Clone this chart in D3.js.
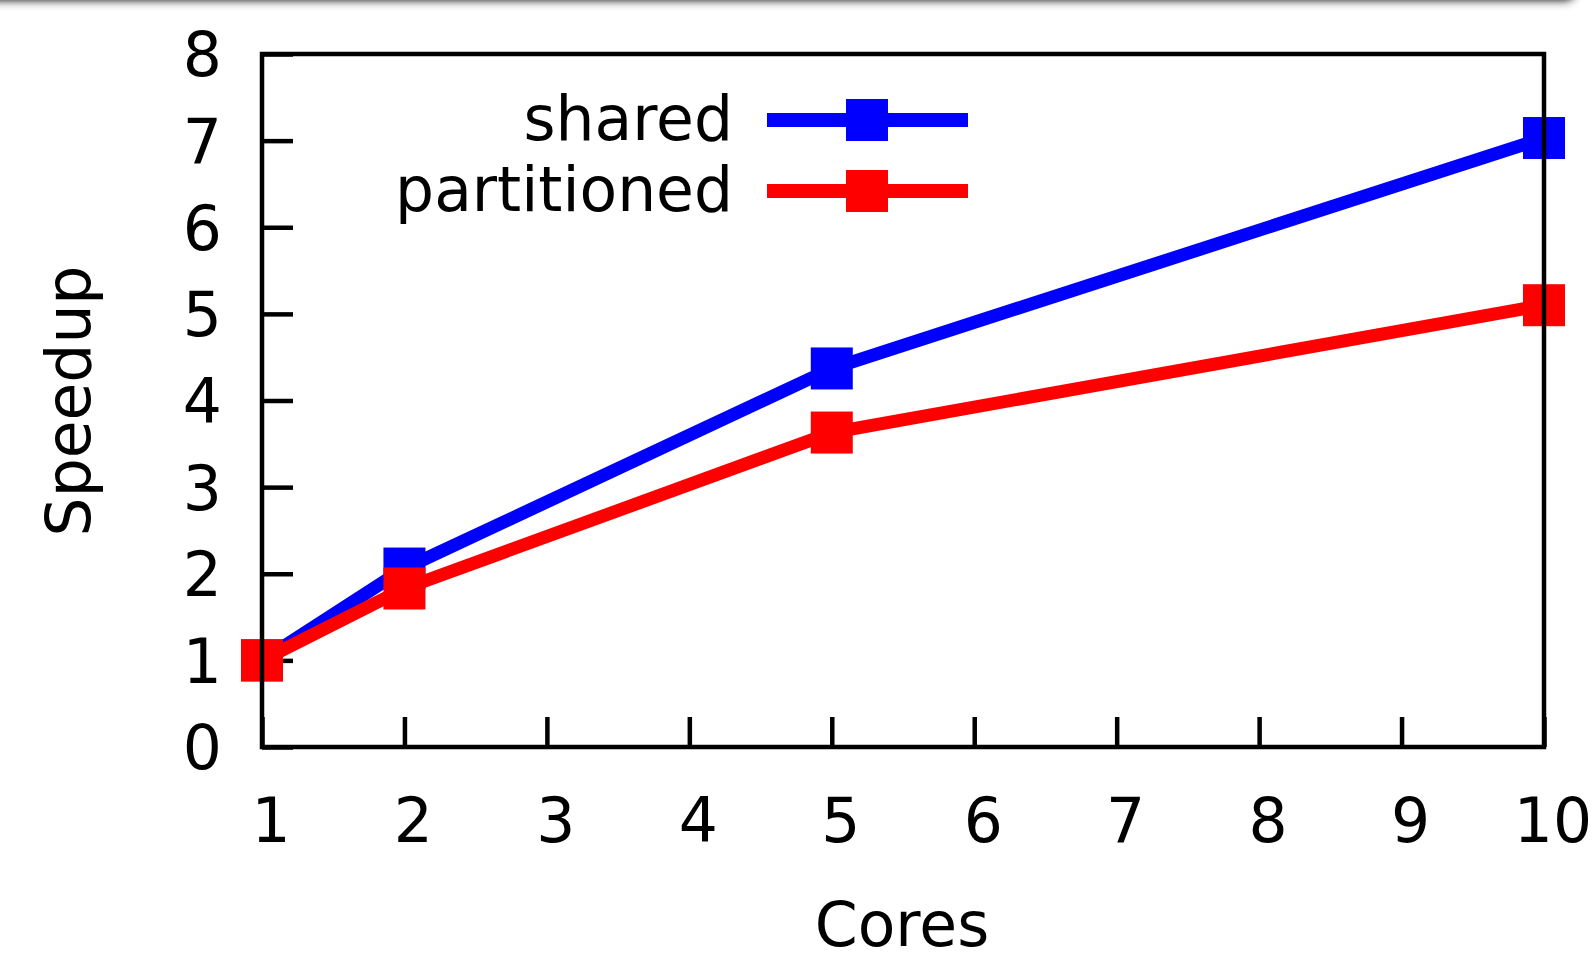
<!DOCTYPE html>
<html>
<head>
<meta charset="utf-8">
<script src="https://cdn.jsdelivr.net/npm/d3@7"></script>
<style>
  html, body { margin: 0; padding: 0; background: #fff; overflow: hidden; }
  svg { display: block; }
  text { font-family: "DejaVu Sans", sans-serif; fill: #000; }
</style>
</head>
<body>
<svg id="chart" width="1594" height="954"></svg>
<script>
// ---- data ----
const cores = [1, 2, 5, 10];
const sharedSpeedup = [1.0, 2.06, 4.37, 7.03];
const partitionedSpeedup = [1.0, 1.83, 3.63, 5.10];
const seriesNames = ["shared", "partitioned"];
const seriesColors = ["#0000ff", "#ff0000"];
const xTickValues = [1, 2, 3, 4, 5, 6, 7, 8, 9, 10];
const yTickValues = [0, 1, 2, 3, 4, 5, 6, 7, 8];
const xTitle = "Cores";
const yTitle = "Speedup";

(function () {
// ---- layout ----
const svg = d3.select("#chart");
const pLeft = 262, pRight = 1544, pTop = 54, pBottom = 747;
const x = d3.scaleLinear().domain([1, 10]).range([pLeft, pRight]);
const y = d3.scaleLinear().domain([0, 8]).range([pBottom, pTop]);
const FS = 61.5;
const lineW = 13, markerSize = 42, frameW = 4.5;

// ---- top shadow decoration ----
const defs = svg.append("defs");
const f = defs.append("filter").attr("id", "blur")
  .attr("x", "-10%").attr("y", "-200%").attr("width", "120%").attr("height", "500%");
f.append("feGaussianBlur").attr("stdDeviation", 4.5);
svg.append("rect")
  .attr("x", -60).attr("y", -40).attr("width", 1636).attr("height", 41)
  .attr("rx", 12)
  .attr("fill", "#2a2a2a")
  .attr("filter", "url(#blur)");

// ---- ticks (inward), drawn under data ----
const yAxis = d3.axisLeft(y).tickValues(yTickValues).tickSize(-31).tickFormat("");
const gy = svg.append("g").attr("transform", `translate(${pLeft},0)`).call(yAxis);
gy.select(".domain").remove();
gy.selectAll("line").attr("stroke", "#000").attr("stroke-width", frameW);

const xAxis = d3.axisBottom(x).tickValues(xTickValues).tickSize(-30).tickFormat("");
const gx = svg.append("g").attr("transform", `translate(0,${pBottom})`).call(xAxis);
gx.select(".domain").remove();
gx.selectAll("line").attr("stroke", "#000").attr("stroke-width", frameW);

// tick labels
svg.append("g").selectAll("text").data(yTickValues).join("text")
  .attr("x", 222).attr("y", d => y(d) + FS * 0.365)
  .attr("text-anchor", "end").attr("font-size", FS)
  .text(d => d);
svg.append("g").selectAll("text").data(xTickValues).join("text")
  .attr("x", d => x(d) + 9).attr("y", 842)
  .attr("text-anchor", "middle").attr("font-size", FS)
  .text(d => d);

// axis titles
svg.append("text").attr("x", 902).attr("y", 946)
  .attr("text-anchor", "middle").attr("font-size", FS).text(xTitle);
svg.append("text")
  .attr("transform", `translate(90,401) rotate(-90)`)
  .attr("text-anchor", "middle").attr("font-size", FS).text(yTitle);

// ---- data series ----
const seriesData = [sharedSpeedup, partitionedSpeedup];
const line = d3.line().x(d => x(d[0])).y(d => y(d[1]));
seriesData.forEach((vals, i) => {
  const pts = cores.map((c, j) => [c, vals[j]]);
  const g = svg.append("g");
  g.append("path").datum(pts).attr("d", line)
    .attr("fill", "none").attr("stroke", seriesColors[i])
    .attr("stroke-width", lineW).attr("stroke-linejoin", "miter");
  g.selectAll("rect").data(pts).join("rect")
    .attr("x", d => x(d[0]) - markerSize / 2)
    .attr("y", d => y(d[1]) - markerSize / 2)
    .attr("width", markerSize).attr("height", markerSize)
    .attr("fill", seriesColors[i]);
});

// ---- legend ----
const legendY = [120, 191];
const leg = svg.append("g");
seriesNames.forEach((name, i) => {
  const ly = legendY[i];
  leg.append("text").attr("x", 733).attr("y", ly + 20)
    .attr("text-anchor", "end").attr("font-size", FS).text(name);
  leg.append("line").attr("x1", 767).attr("x2", 968)
    .attr("y1", ly).attr("y2", ly)
    .attr("stroke", seriesColors[i]).attr("stroke-width", lineW + 1);
  leg.append("rect").attr("x", 867 - markerSize / 2).attr("y", ly - markerSize / 2)
    .attr("width", markerSize).attr("height", markerSize)
    .attr("fill", seriesColors[i]);
});

// ---- frame on top ----
svg.append("rect")
  .attr("x", pLeft).attr("y", pTop)
  .attr("width", pRight - pLeft).attr("height", pBottom - pTop)
  .attr("fill", "none").attr("stroke", "#000").attr("stroke-width", frameW);
})();
</script>
</body>
</html>
